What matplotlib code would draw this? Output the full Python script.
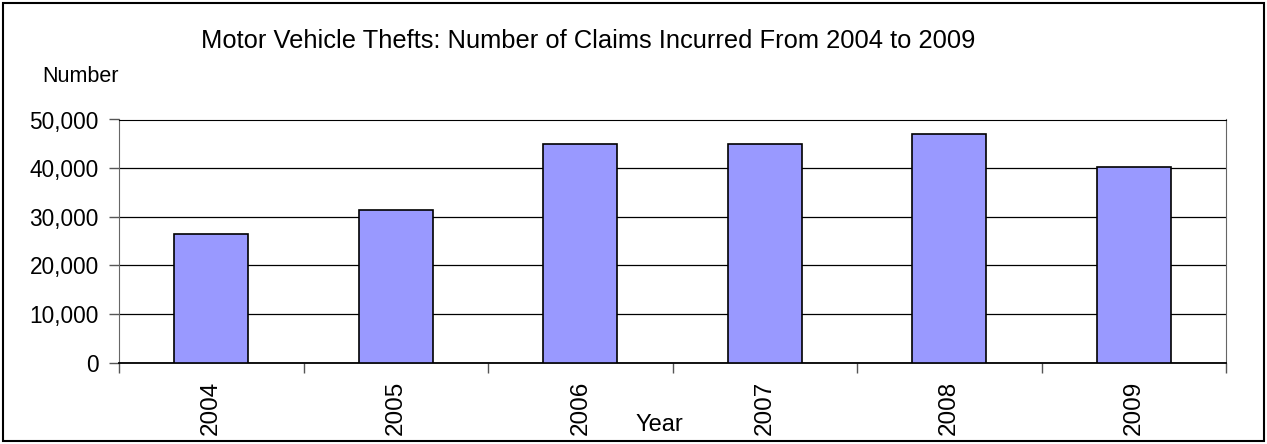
import matplotlib
matplotlib.use("Agg")
import matplotlib.pyplot as plt
from matplotlib.patches import Rectangle
import numpy as np

# Data
years = ['2004', '2005', '2006', '2007', '2008', '2009']
claims = [26500, 31400, 44900, 45000, 47100, 40300]
y_ticks = [0, 10000, 20000, 30000, 40000, 50000]

plt.rcParams['font.family'] = ['Liberation Sans', 'DejaVu Sans']

W, H = 1267, 444
fig = plt.figure(figsize=(W / 100, H / 100), dpi=100)
ax = fig.add_axes([119 / W, 1 - 362.5 / H, (1226 - 119) / W, (362.5 - 119.5) / H])

x = np.arange(len(years))
ax.bar(x, claims, width=0.4, color='#9999FF', edgecolor='black', linewidth=1.2, zorder=3)

ax.set_xlim(-0.5, len(years) - 0.5)
ax.set_ylim(0, 50000)
ax.set_yticks(y_ticks)
ax.set_yticklabels([f"{v:,}" for v in y_ticks], fontsize=16.3)
ax.yaxis.grid(True, color='black', linewidth=0.9, zorder=0)

# category labels centred, tick marks at category boundaries
ax.set_xticks(x)
ax.set_xticklabels(years, rotation=90, fontsize=17.5)
ax.tick_params(axis='x', length=0, pad=13)
ax.set_xticks(np.arange(-0.5, len(years)), minor=True)
ax.tick_params(axis='x', which='minor', length=7, width=1, color='#555555')
ax.tick_params(axis='y', length=7, width=1, color='#555555', pad=7.5)

for side in ['left', 'right']:
    ax.spines[side].set_color('#666666')
ax.spines['top'].set_color('black')
ax.spines['bottom'].set_color('black')
ax.spines['bottom'].set_linewidth(1.3)

fig.text(588 / W, 1 - 48 / H, 'Motor Vehicle Thefts: Number of Claims Incurred From 2004 to 2009',
         ha='center', va='baseline', fontsize=18.4)
fig.text(42 / W, 1 - 82 / H, 'Number', ha='left', va='baseline', fontsize=15.5)
fig.text(659 / W, 1 - 431 / H, 'Year', ha='center', va='baseline', fontsize=17)

# outer chart border
fig.patches.append(Rectangle((3 / W, 3 / H), 1 - 6 / W, 1 - 6 / H,
                             transform=fig.transFigure, fill=False,
                             edgecolor='black', linewidth=1.5))

fig.savefig('out.png', dpi=100)
